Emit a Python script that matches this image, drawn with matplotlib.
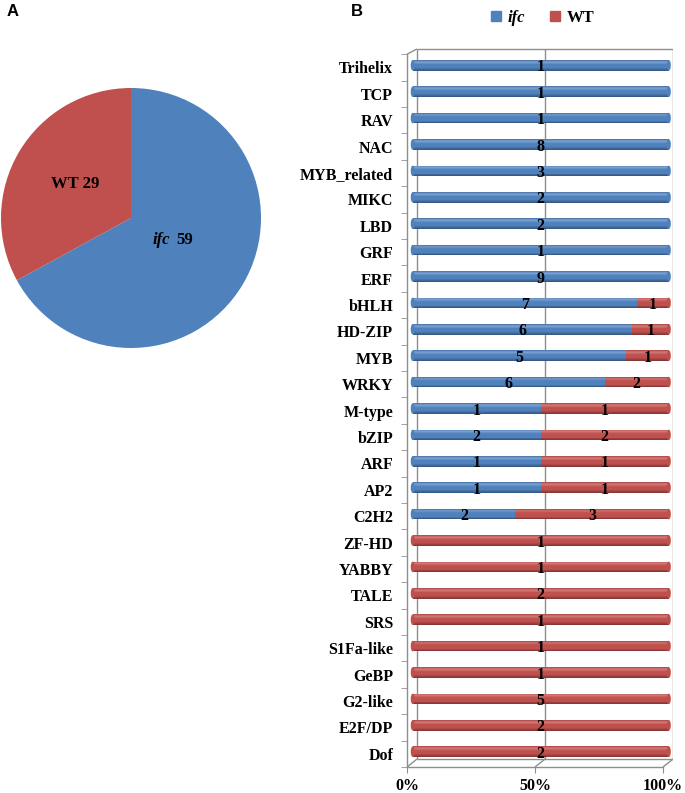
import matplotlib
matplotlib.use("Agg")
import matplotlib.pyplot as plt
import numpy as np
from matplotlib.patches import Patch, Ellipse

# data, top to bottom as drawn in panel B
families = ["Trihelix", "TCP", "RAV", "NAC", "MYB_related", "MIKC", "LBD", "GRF",
            "ERF", "bHLH", "HD-ZIP", "MYB", "WRKY", "M-type", "bZIP", "ARF", "AP2",
            "C2H2", "ZF-HD", "YABBY", "TALE", "SRS", "S1Fa-like", "GeBP", "G2-like",
            "E2F/DP", "Dof"]
ifc_counts = [1, 1, 1, 8, 3, 2, 2, 1, 9, 7, 6, 5, 6, 1, 2, 1, 1, 2,
              0, 0, 0, 0, 0, 0, 0, 0, 0]
wt_counts = [0, 0, 0, 0, 0, 0, 0, 0, 0, 1, 1, 1, 2, 1, 2, 1, 1, 3,
             1, 1, 2, 1, 1, 1, 5, 2, 2]
pie_names = ["ifc", "WT"]
pie_values = [59, 29]
pct_ticks = [0, 50, 100]

BLUE = "#4F81BD"
RED = "#C0504D"
GRID = "#8E8E8E"
SERIF = "Liberation Serif"

fig = plt.figure(figsize=(6.85, 7.93), dpi=100)

# ---------- panel A: pie ----------
W, H = 685, 793
axp = fig.add_axes([1 / W, 1 - 348 / H, 260 / W, 260 / H])
axp.pie(pie_values, colors=[BLUE, RED], startangle=90, counterclock=False,
        wedgeprops=dict(linewidth=0))
axp.set_xlim(-1, 1)
axp.set_ylim(-1, 1)
axp.set_aspect("equal")
axp.text(0.23, -0.17, pie_names[0], style="italic", fontweight="bold",
         family=SERIF, fontsize=12, ha="center", va="center")
axp.text(0.415, -0.17, str(pie_values[0]), fontweight="bold",
         family=SERIF, fontsize=12, ha="center", va="center")
axp.text(-0.43, 0.26, f"{pie_names[1]} {pie_values[1]}", fontweight="bold",
         family=SERIF, fontsize=12, ha="center", va="center")

fig.text(7 / W, 1 - 11 / H, "A", fontsize=12, fontweight="bold", family="Liberation Sans",
         va="center", ha="left")
fig.text(351 / W, 1 - 11 / H, "B", fontsize=12, fontweight="bold", family="Liberation Sans",
         va="center", ha="left")

# ---------- panel B: 3D-like 100% stacked cylinders ----------
ax = fig.add_axes([407 / W, 1 - 767 / H, 266 / W, 719 / H])
n = len(families)
ax.set_xlim(0, 266 / 2.56)
ax.set_ylim(-0.5, -0.5 + 719 / 26.4)
dx, dy = 10 / 2.56, 0.3

# back wall, floor and gridline
top = ax.get_ylim()[1]
wall_kw = dict(color=GRID, lw=1.0, solid_capstyle="butt", zorder=1)
ax.plot([dx, dx], [-0.5 + dy, top - 0.02], **wall_kw)
ax.plot([100 + dx, 100 + dx], [-0.5 + dy, top - 0.02], **wall_kw)
ax.plot([dx, 100 + dx], [top - 0.02, top - 0.02], **wall_kw)
ax.plot([dx, 100 + dx], [-0.5 + dy, -0.5 + dy], **wall_kw)
ax.plot([50 + dx, 50 + dx], [-0.5 + dy, top - 0.02], **wall_kw)
for xv in pct_ticks:
    ax.plot([xv, xv + dx], [-0.5, -0.5 + dy], **wall_kw)
ax.plot([0, dx], [n - 0.5, n - 0.5 + 0.2], **wall_kw)


def shade(color, t):
    c = np.array(matplotlib.colors.to_rgb(color))
    light = 0.22 * np.exp(-((t - 0.8) / 0.12) ** 2)
    dark = 0.35 * max(0, 0.3 - t) / 0.3 + 0.15 * max(0, t - 0.92) / 0.08
    c = c + (1 - c) * light
    c = c * (1 - dark)
    return np.clip(c, 0, 1)


ifc = np.array(ifc_counts, dtype=float)
wt = np.array(wt_counts, dtype=float)
tot = ifc + wt
ifc_pct = ifc / tot * 100
wt_pct = wt / tot * 100
ypos = np.arange(n)[::-1]
off = dx / 2 + 0.3
bh = 0.4
yc = ypos + 0.08
nsl = 12
for k in range(nsl):
    t = (k + 0.5) / nsl
    yy = yc - bh / 2 + bh * k / nsl
    ax.barh(yy, ifc_pct, left=off, height=bh / nsl * 1.05, align="edge",
            color=shade(BLUE, t), lw=0, zorder=3)
    ax.barh(yy, wt_pct, left=off + ifc_pct, height=bh / nsl * 1.05, align="edge",
            color=shade(RED, t), lw=0, zorder=3)

for i in range(n):
    endc = RED if wt[i] > 0 else BLUE
    startc = BLUE if ifc[i] > 0 else RED
    ax.add_patch(Ellipse((off + 100, yc[i]), 1.6, bh, color=shade(endc, 0.4),
                         lw=0, zorder=4))
    ax.add_patch(Ellipse((off, yc[i]), 1.6, bh, color=shade(startc, 0.5),
                         lw=0, zorder=4))
    if ifc[i] > 0:
        ax.text(off + ifc_pct[i] / 2, ypos[i], f"{int(ifc[i])}", ha="center", va="center",
                family=SERIF, fontweight="bold", fontsize=11.5, zorder=5)
    if wt[i] > 0:
        ax.text(off + ifc_pct[i] + wt_pct[i] / 2, ypos[i], f"{int(wt[i])}", ha="center",
                va="center", family=SERIF, fontweight="bold", fontsize=11.5, zorder=5)

for s in ["top", "right"]:
    ax.spines[s].set_visible(False)
ax.spines["left"].set_bounds(-0.5, n - 0.5)
ax.spines["bottom"].set_bounds(0, 100)
for s in ["left", "bottom"]:
    ax.spines[s].set_color(GRID)
    ax.spines[s].set_linewidth(1.0)

ax.set_yticks(ypos)
ax.set_yticklabels(families, family=SERIF, fontweight="bold", fontsize=11.5)
ax.set_yticks(np.arange(-0.5, n, 1.0), minor=True)
ax.tick_params(axis="y", which="major", length=0, pad=10)
ax.tick_params(axis="y", which="minor", length=4, color=GRID)
ax.set_xticks(pct_ticks)
ax.set_xticklabels([f"{v}%" for v in pct_ticks], family=SERIF, fontweight="bold",
                   fontsize=11.5)
ax.tick_params(axis="x", length=4, color=GRID, pad=4)

handles = [Patch(color=BLUE), Patch(color=RED)]
leg = fig.legend(handles, pie_names, loc="center", bbox_to_anchor=(543 / W, 1 - 18 / H),
                 ncol=2, frameon=False, handlelength=0.6, handleheight=0.6,
                 handletextpad=0.4, columnspacing=1.5,
                 prop=dict(family=SERIF, weight="bold", size=12))
leg.get_texts()[0].set_style("italic")

fig.savefig("out.png", dpi=100)
